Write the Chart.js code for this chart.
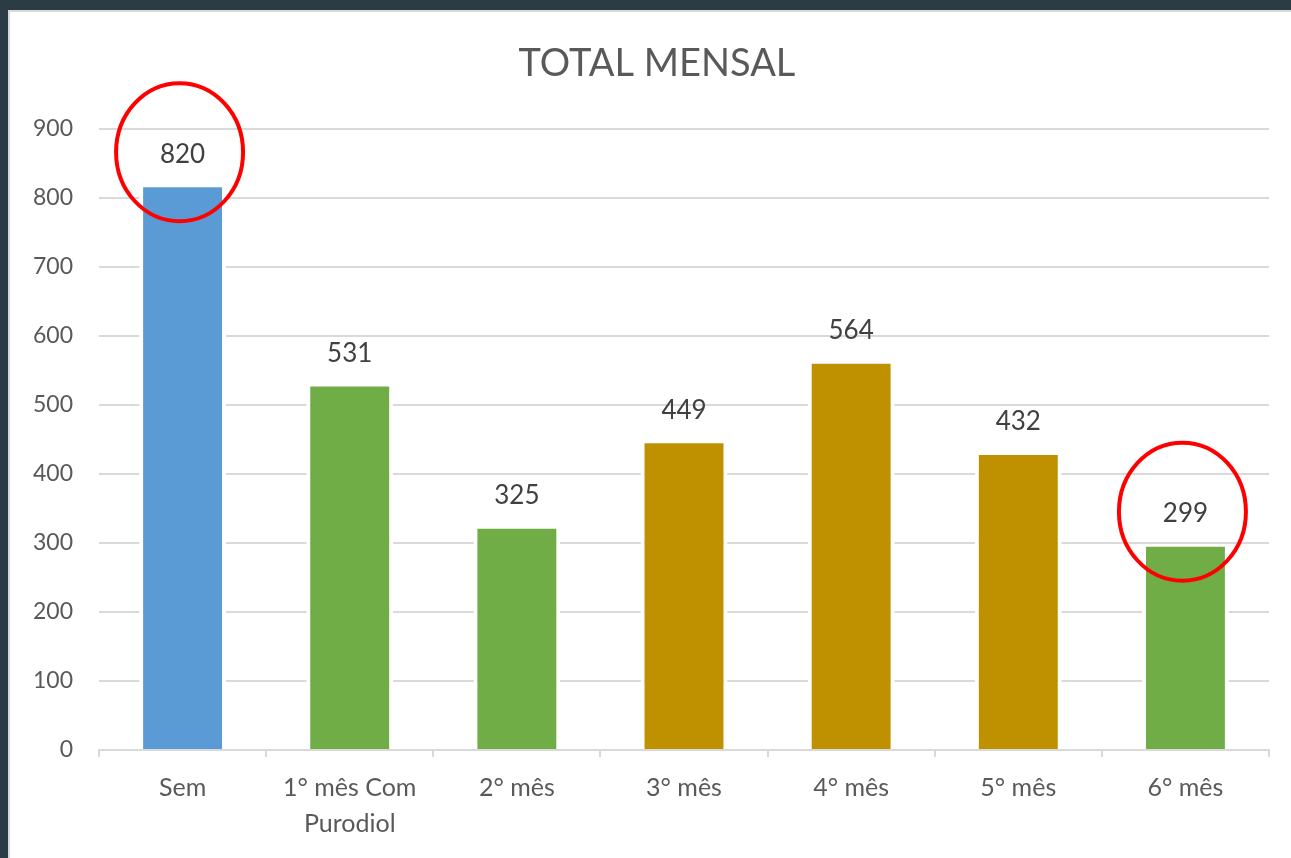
<!DOCTYPE html>
<html>
<head>
<meta charset="utf-8">
<script src="https://cdn.jsdelivr.net/npm/chart.js@4.4.1/dist/chart.umd.min.js"></script>
<style>
  html, body { margin: 0; padding: 0; background: #2b3c45; width: 1291px; height: 858px; overflow: hidden; }
  #panel { position: absolute; left: 8px; top: 10px; width: 1283px; height: 848px; background: #ffffff; box-sizing: border-box; border-left: 2px solid #d9d9d9; border-top: 2px solid #d9d9d9; }
  #c { position: absolute; left: 10px; top: 12px; }
</style>
</head>
<body>
<div id="panel"></div>
<canvas id="c" width="1281" height="846"></canvas>
<script>
const chartTitle = "TOTAL MENSAL";
const categories = ["Sem", ["1° mês Com", "Purodiol"], "2° mês", "3° mês", "4° mês", "5° mês", "6° mês"];
const values = [820, 531, 325, 449, 564, 432, 299];
const barColors = ["#5b9bd5", "#70ad47", "#70ad47", "#bf9000", "#bf9000", "#bf9000", "#70ad47"];
const yTicks = [0, 100, 200, 300, 400, 500, 600, 700, 800, 900];
const circled = [0, 6];

const FONT = "Lato, 'Open Sans', sans-serif";

const labelPlugin = {
  id: 'valueLabels',
  afterLayout(chart) {
    // let the y tick labels use the space left of the (title-centering) padding
    chart.scales.y.left = 0;
  },
  afterDatasetsDraw(chart) {
    const ctx = chart.ctx;
    const meta = chart.getDatasetMeta(0);
    ctx.save();
    ctx.font = "26px " + FONT;
    ctx.fillStyle = "#404040";
    ctx.textAlign = "center";
    ctx.textBaseline = "middle";
    meta.data.forEach((bar, i) => {
      ctx.fillText(String(values[i]), bar.x, bar.y - 30);
    });
    // red annotation ellipses around selected labels
    ctx.strokeStyle = "#ff0000";
    ctx.lineWidth = 4;
    circled.forEach(i => {
      const bar = meta.data[i];
      ctx.beginPath();
      ctx.ellipse(bar.x - 3, bar.y - 32, 63.5, 69, 0, 0, Math.PI * 2);
      ctx.stroke();
    });
    ctx.restore();
  }
};

new Chart(document.getElementById('c'), {
  type: 'bar',
  data: {
    labels: categories,
    datasets: [{
      data: values,
      backgroundColor: barColors,
      borderColor: "#ffffff",
      borderWidth: { top: 3, left: 4, right: 4, bottom: 0 },
      borderSkipped: false,
      barPercentage: 0.52,
      categoryPercentage: 1
    }]
  },
  options: {
    responsive: false,
    devicePixelRatio: 1,
    animation: false,
    layout: { padding: { left: 35, right: 22, top: 0, bottom: 20 } },
    plugins: {
      legend: { display: false },
      tooltip: { enabled: false },
      title: {
        display: true,
        text: chartTitle,
        color: "#595959",
        font: { family: FONT, size: 38, weight: 'normal', lineHeight: 1.2 },
        padding: { top: 29, bottom: 42.4 }
      }
    },
    scales: {
      x: {
        offset: true,
        border: { display: true, color: "#d9d9d9", width: 2 },
        grid: { offset: true, drawOnChartArea: false, drawTicks: true, tickLength: 7, color: "#d9d9d9", lineWidth: 2 },
        ticks: {
          color: "#595959",
          font: { family: FONT, size: 25, lineHeight: 1.44 },
          padding: 13,
          maxRotation: 0,
          autoSkip: false
        },
        afterFit(scale) { scale.height = 88; }
      },
      y: {
        min: 0,
        max: 900,
        border: { display: false },
        grid: { color: "#d9d9d9", lineWidth: 2, drawTicks: false },
        afterBuildTicks(scale) { scale.ticks = yTicks.map(v => ({ value: v })); },
        ticks: {
          color: "#595959",
          font: { family: FONT, size: 23 },
          padding: 26
        },
        afterFit(scale) { scale.width = 54; }
      }
    }
  },
  plugins: [labelPlugin]
});
</script>
</body>
</html>
